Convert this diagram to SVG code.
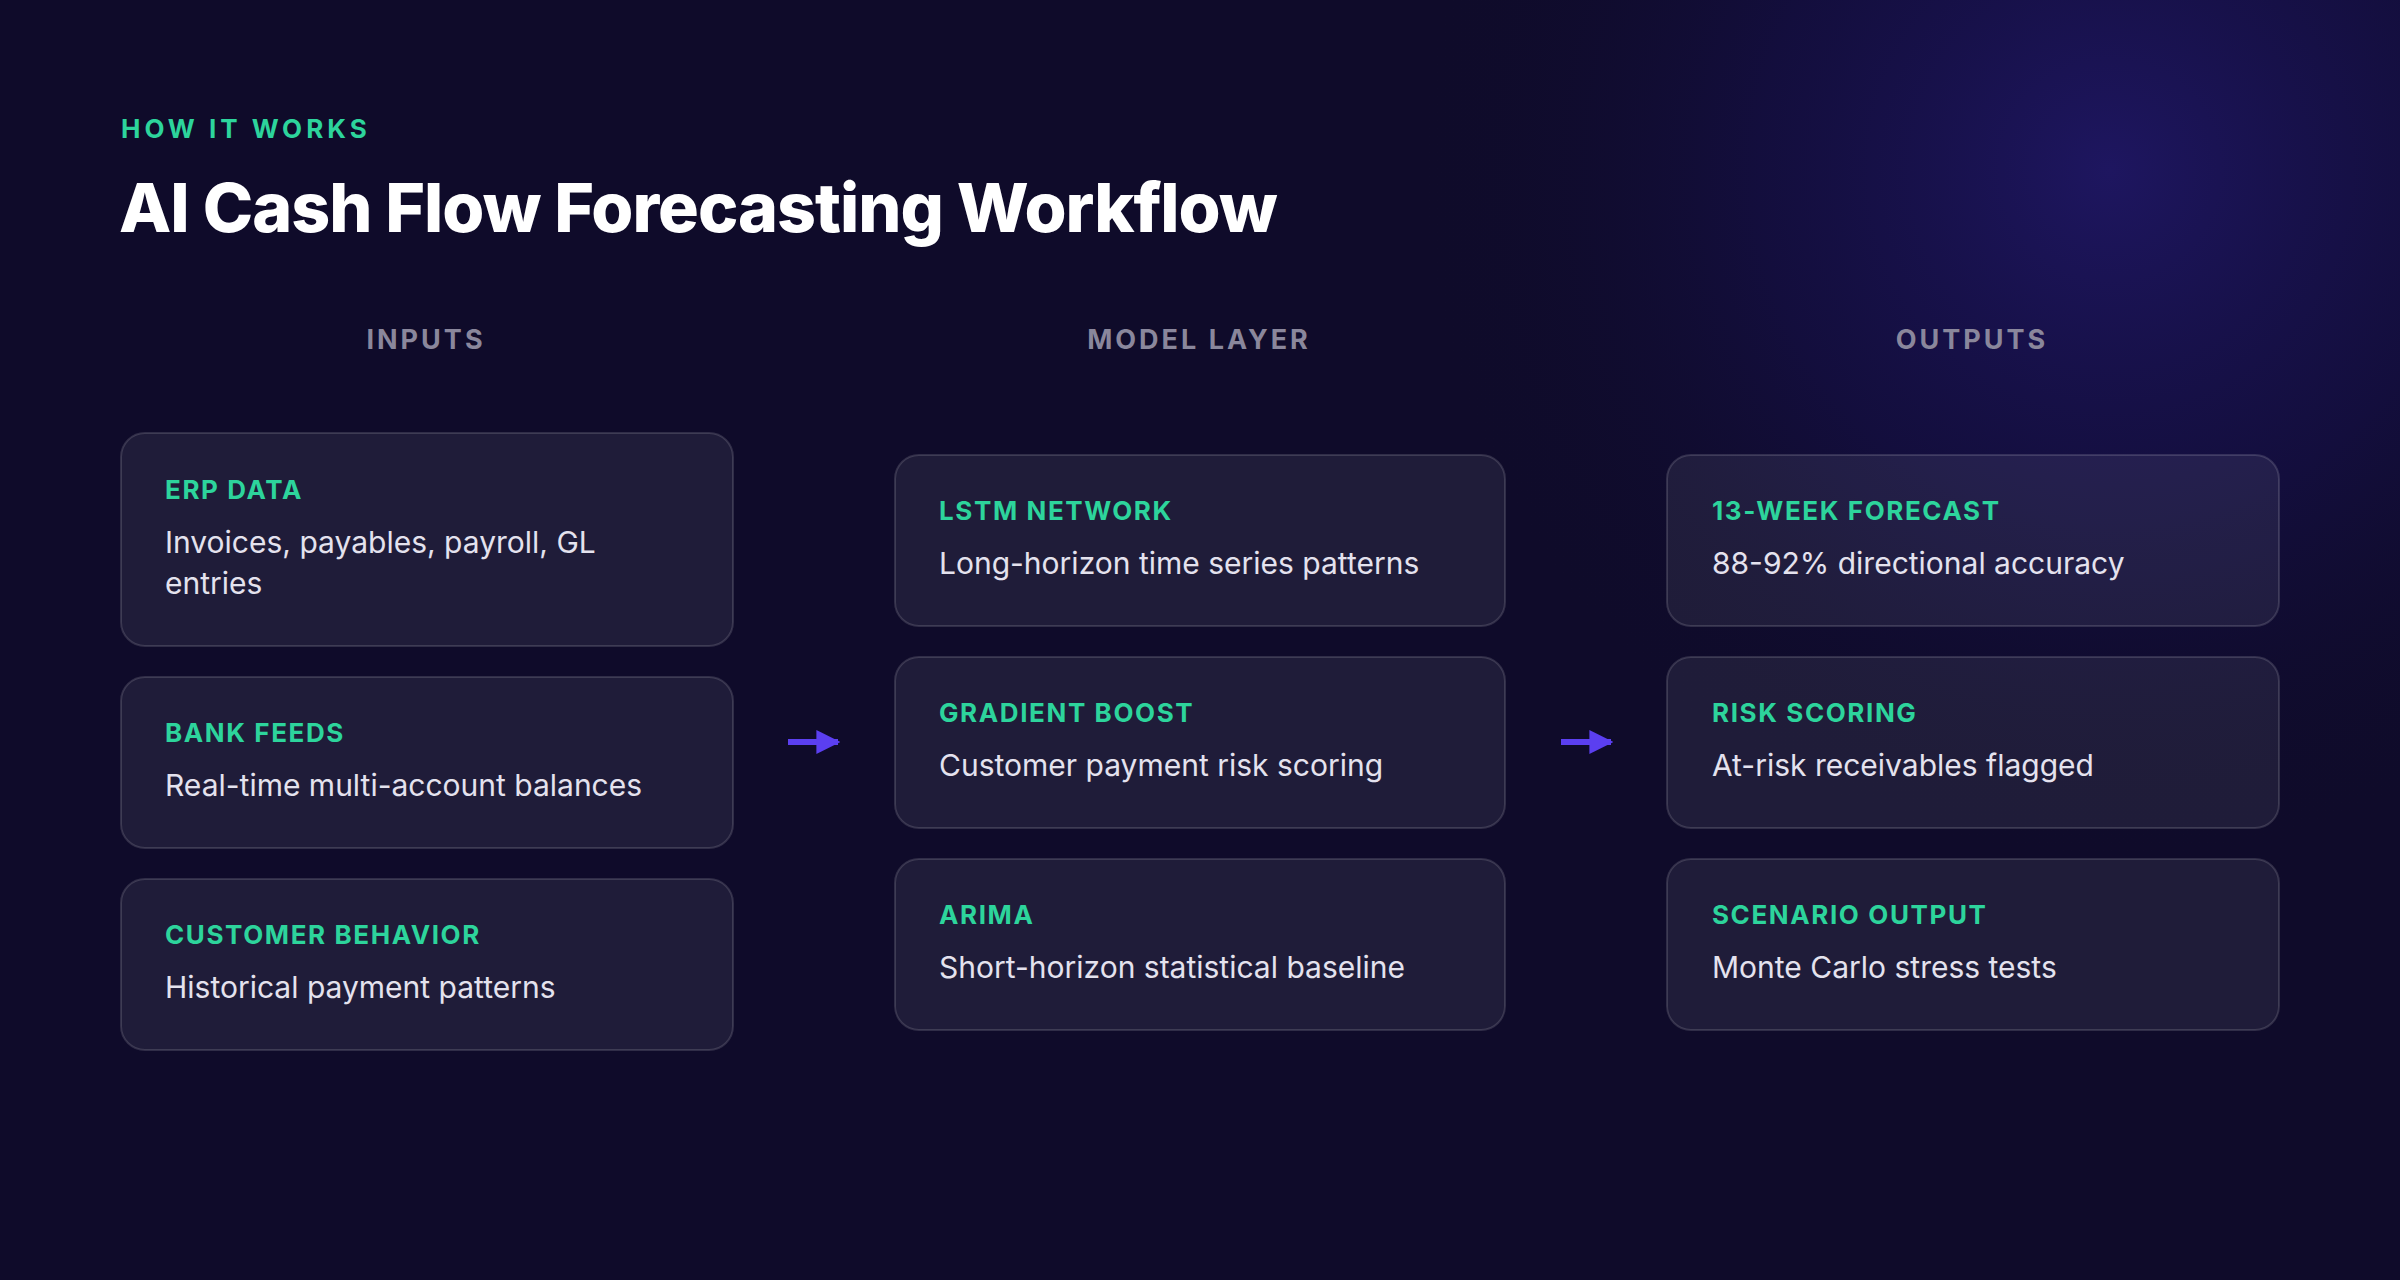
<svg xmlns="http://www.w3.org/2000/svg" width="2400" height="1280" viewBox="0 0 2400 1280">
<defs>
<radialGradient id="glow" cx="2110" cy="170" r="700" gradientUnits="userSpaceOnUse">
<stop offset="0" stop-color="#1e1660"/>
<stop offset="0.5" stop-color="#16104a" stop-opacity="0.6"/>
<stop offset="1" stop-color="#0f0b2a" stop-opacity="0"/>
</radialGradient>
<marker id="ah" viewBox="0 0 10 10" refX="9" refY="5" markerWidth="4" markerHeight="4" orient="auto" markerUnits="strokeWidth"><path d="M0,0 L10,5 L0,10 z" fill="#5b3ff0"/></marker>
</defs>
<style>
.box{fill:#ffffff;fill-opacity:0.07;stroke:#ffffff;stroke-opacity:0.14;stroke-width:2}
.lbl{font-family:Inter,"Liberation Sans",sans-serif;font-weight:700;font-size:26px;letter-spacing:1.6px;fill:#2dd49c}
.desc{font-family:Inter,"Liberation Sans",sans-serif;font-size:30px;fill:#e4e2ee}
.col{font-family:Inter,"Liberation Sans",sans-serif;font-weight:700;font-size:27px;letter-spacing:3px;fill:#8a879c;text-anchor:middle}
.arr{stroke:#5b3ff0;stroke-width:6;fill:none}
</style>
<rect width="2400" height="1280" fill="#0f0b2a"/>
<rect width="2400" height="1280" fill="url(#glow)"/>
<text x="121" y="138" font-family="Inter,'Liberation Sans',sans-serif" font-weight="700" font-size="26" letter-spacing="4" fill="#2dd49c">HOW IT WORKS</text>
<text x="119" y="232" font-family="Inter,'Liberation Sans',sans-serif" font-weight="800" font-size="68" letter-spacing="-1" fill="#ffffff">AI Cash Flow Forecasting Workflow</text>
<text class="col" x="426" y="349">INPUTS</text>
<text class="col" x="1199" y="349">MODEL LAYER</text>
<text class="col" x="1972" y="349">OUTPUTS</text>
<g id="erp"><rect class="box" x="121" y="433" width="612" height="213" rx="24"/><text class="lbl" x="165" y="499">ERP DATA</text><text class="desc" x="165" y="553">Invoices, payables, payroll, GL</text><text class="desc" x="165" y="594">entries</text></g>
<g id="bank"><rect class="box" x="121" y="677" width="612" height="171" rx="24"/><text class="lbl" x="165" y="742">BANK FEEDS</text><text class="desc" x="165" y="796">Real-time multi-account balances</text></g>
<g id="cust"><rect class="box" x="121" y="879" width="612" height="171" rx="24"/><text class="lbl" x="165" y="944">CUSTOMER BEHAVIOR</text><text class="desc" x="165" y="998">Historical payment patterns</text></g>
<g id="lstm"><rect class="box" x="895" y="455" width="610" height="171" rx="24"/><text class="lbl" x="939" y="520">LSTM NETWORK</text><text class="desc" x="939" y="574">Long-horizon time series patterns</text></g>
<g id="gb"><rect class="box" x="895" y="657" width="610" height="171" rx="24"/><text class="lbl" x="939" y="722">GRADIENT BOOST</text><text class="desc" x="939" y="776">Customer payment risk scoring</text></g>
<g id="arima"><rect class="box" x="895" y="859" width="610" height="171" rx="24"/><text class="lbl" x="939" y="924">ARIMA</text><text class="desc" x="939" y="978">Short-horizon statistical baseline</text></g>
<g id="fc"><rect class="box" x="1667" y="455" width="612" height="171" rx="24"/><text class="lbl" x="1712" y="520">13-WEEK FORECAST</text><text class="desc" x="1712" y="574">88-92% directional accuracy</text></g>
<g id="risk"><rect class="box" x="1667" y="657" width="612" height="171" rx="24"/><text class="lbl" x="1712" y="722">RISK SCORING</text><text class="desc" x="1712" y="776">At-risk receivables flagged</text></g>
<g id="scen"><rect class="box" x="1667" y="859" width="612" height="171" rx="24"/><text class="lbl" x="1712" y="924">SCENARIO OUTPUT</text><text class="desc" x="1712" y="978">Monte Carlo stress tests</text></g>
<g id="connectors">
<line class="arr" x1="788" y1="742" x2="838" y2="742" marker-end="url(#ah)"/>
<line class="arr" x1="1561" y1="742" x2="1611" y2="742" marker-end="url(#ah)"/>
</g>
</svg>
